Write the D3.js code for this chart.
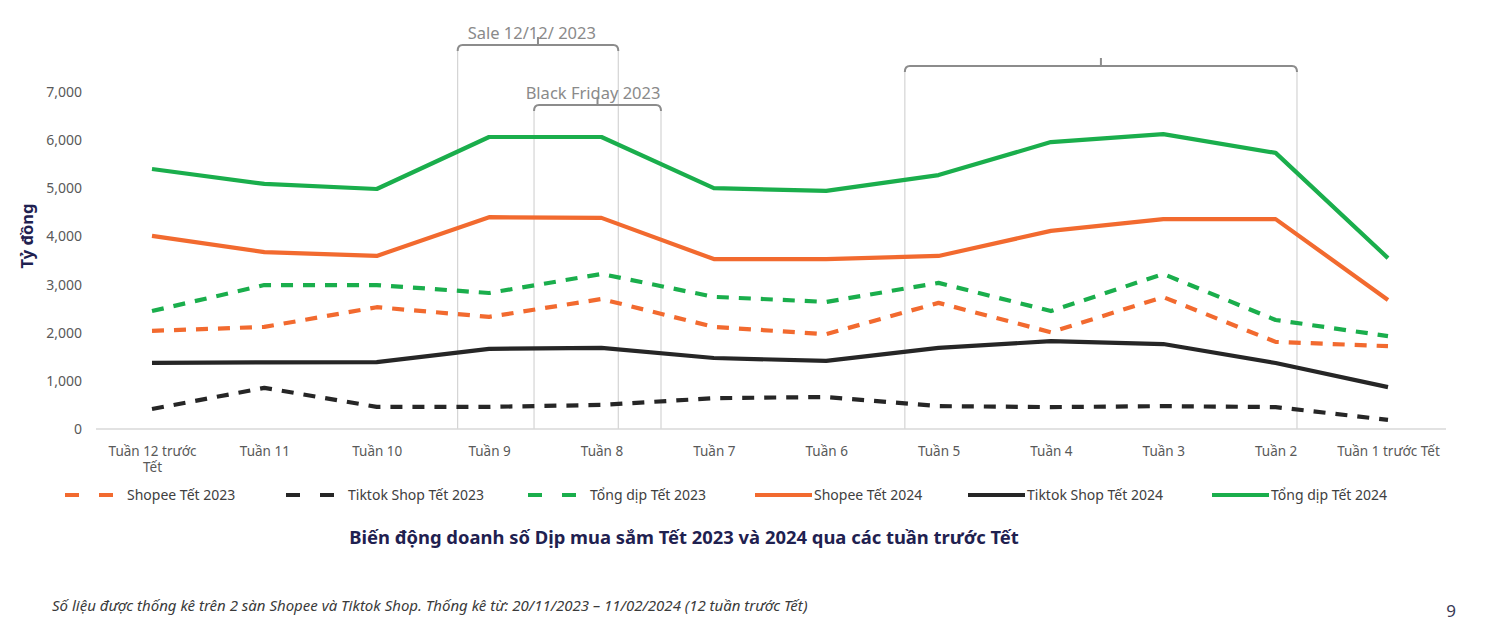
<!DOCTYPE html>
<html>
<head>
<meta charset="utf-8">
<script src="https://cdn.jsdelivr.net/npm/d3@7"></script>
<style>
  body { margin: 0; background: #fff; }
  svg { display: block; font-family: "Noto Sans", "Open Sans", sans-serif; }
</style>
</head>
<body>
<svg class="chart"></svg>
<script>
// DATA
var weeks = ["Tuần 12 trước Tết", "Tuần 11", "Tuần 10", "Tuần 9", "Tuần 8", "Tuần 7",
             "Tuần 6", "Tuần 5", "Tuần 4", "Tuần 3", "Tuần 2", "Tuần 1 trước Tết"];
var yTicks = [0, 1000, 2000, 3000, 4000, 5000, 6000, 7000];

var shopee2023 = [2040, 2120, 2530, 2330, 2700, 2120, 1970, 2620, 2010, 2740, 1810, 1720];
var tiktok2023 = [415, 855, 460, 460, 500, 640, 665, 475, 455, 475, 455, 190];
var tong2023   = [2450, 2990, 2990, 2825, 3220, 2745, 2640, 3035, 2450, 3220, 2265, 1930];
var shopee2024 = [4010, 3675, 3595, 4400, 4385, 3530, 3530, 3595, 4115, 4360, 4360, 2680];
var tiktok2024 = [1375, 1385, 1390, 1665, 1685, 1475, 1415, 1685, 1825, 1765, 1370, 870];
var tong2024   = [5400, 5090, 4985, 6065, 6065, 5005, 4945, 5275, 5960, 6125, 5735, 3550];

var seriesNames = ["Shopee Tết 2023", "Tiktok Shop Tết 2023", "Tổng dịp Tết 2023",
                   "Shopee Tết 2024", "Tiktok Shop Tết 2024", "Tổng dịp Tết 2024"];

var W = 1487, H = 628;
var orange = "#f26a2f", black = "#262626", green = "#1aae4c";

var series = [
  {name: seriesNames[0], values: shopee2023, color: orange, dash: "12,10"},
  {name: seriesNames[1], values: tiktok2023, color: black,  dash: "12,10"},
  {name: seriesNames[2], values: tong2023,   color: green,  dash: "12,10"},
  {name: seriesNames[3], values: shopee2024, color: orange, dash: null},
  {name: seriesNames[4], values: tiktok2024, color: black,  dash: null},
  {name: seriesNames[5], values: tong2024,   color: green,  dash: null}
];

var svg = d3.select(".chart").attr("width", W).attr("height", H);

// SCALES (index -> x so annotations can sit between weeks)
var x = d3.scaleLinear().domain([0, weeks.length - 1]).range([152, 1388]);
var y = d3.scaleLinear().domain([0, 7000]).range([429, 92]);

// ANNOTATION BRACKETS (drawn under the lines)
var brackets = [
  {from: 2.72, to: 4.15, top: 45, label: "Sale 12/12/ 2023", labelX: 3.38},
  {from: 3.40, to: 4.53, top: 105, label: "Black Friday 2023", labelX: 3.925},
  {from: 6.70, to: 10.19, top: 66, label: "", labelX: 8.45}
];

var ann = svg.append("g").attr("class", "annotations");
brackets.forEach(function(b) {
  ann.append("line")
    .attr("x1", x(b.from)).attr("x2", x(b.from))
    .attr("y1", b.top + 4).attr("y2", y(0))
    .attr("stroke", "#d4d4d4").attr("stroke-width", 1.2);
  ann.append("line")
    .attr("x1", x(b.to)).attr("x2", x(b.to))
    .attr("y1", b.top + 4).attr("y2", y(0))
    .attr("stroke", "#d4d4d4").attr("stroke-width", 1.2);
  var mid = (x(b.from) + x(b.to)) / 2;
  ann.append("path")
    .attr("d", "M" + x(b.from) + "," + (b.top + 6) + " Q" + x(b.from) + "," + b.top + " " + (x(b.from) + 5) + "," + b.top +
               " L" + (x(b.to) - 5) + "," + b.top + " Q" + x(b.to) + "," + b.top + " " + x(b.to) + "," + (b.top + 6) +
               " M" + mid + "," + b.top + " L" + mid + "," + (b.top - 8))
    .attr("fill", "none").attr("stroke", "#8c8c8c").attr("stroke-width", 2);
  if (b.label) {
    ann.append("text")
      .attr("x", x(b.labelX)).attr("y", b.top - 6)
      .attr("text-anchor", "middle")
      .attr("font-size", 16.5).attr("fill", "#8a8a8a")
      .text(b.label);
  }
});

// Y AXIS (labels only, no line)
var yAxis = svg.append("g")
  .attr("transform", "translate(82,0)")
  .call(d3.axisLeft(y).tickValues(yTicks).tickSize(0).tickPadding(0).tickFormat(d3.format(",")));
yAxis.select(".domain").remove();
yAxis.selectAll("text").attr("font-size", 14).attr("fill", "#595959")
  .attr("font-family", "Noto Sans, sans-serif");

svg.append("text")
  .attr("transform", "translate(33,236) rotate(-90)")
  .attr("text-anchor", "middle")
  .attr("font-size", 16.5).attr("font-weight", "bold").attr("fill", "#1f2150")
  .text("Tỷ đồng");

// X AXIS
var xAxis = svg.append("g")
  .attr("transform", "translate(0," + y(0) + ")")
  .call(d3.axisBottom(x).tickValues(d3.range(weeks.length)).tickSize(0).tickPadding(17)
        .tickFormat(function(i) { return weeks[i]; }));
xAxis.select(".domain").remove();
xAxis.append("line")
  .attr("x1", 96).attr("x2", 1446)
  .attr("stroke", "#d9d9d9").attr("stroke-width", 1.5);
xAxis.selectAll("text")
  .attr("font-size", 13.5).attr("fill", "#595959")
  .attr("font-family", "Noto Sans, sans-serif")
  .each(function(d, i) {
    if (i === 0) {
      var t = d3.select(this).text("");
      t.append("tspan").attr("x", 0).attr("dy", "0.71em").text("Tuần 12 trước");
      t.append("tspan").attr("x", 0).attr("dy", "1.25em").text("Tết");
    }
  });

// LINES
var line = d3.line()
  .x(function(d, i) { return x(i); })
  .y(function(d) { return y(d); });

svg.append("g").attr("class", "lines").selectAll("path")
  .data(series)
  .enter().append("path")
    .attr("d", function(d) { return line(d.values); })
    .attr("fill", "none")
    .attr("stroke", function(d) { return d.color; })
    .attr("stroke-width", 4.2)
    .attr("stroke-linejoin", "round")
    .attr("stroke-dasharray", function(d) { return d.dash; });

// LEGEND
var legendX = [65, 286, 528, 755, 968, 1212];
var legend = svg.append("g").attr("class", "legend").attr("transform", "translate(0,495)");
var items = legend.selectAll("g").data(series).enter().append("g")
  .attr("transform", function(d, i) { return "translate(" + legendX[i] + ",0)"; });
items.append("line")
  .attr("x1", 0).attr("x2", function(d) { return d.dash ? 48 : 57; })
  .attr("stroke", function(d) { return d.color; })
  .attr("stroke-width", 4)
  .attr("stroke-dasharray", function(d) { return d.dash ? "14,20" : null; });
items.append("text")
  .attr("x", function(d) { return d.dash ? 62 : 59; })
  .attr("dy", "0.35em")
  .attr("font-size", 14).attr("fill", "#404040")
  .text(function(d) { return d.name; });

// TITLE + FOOTNOTE
svg.append("text")
  .attr("x", 684).attr("y", 544)
  .attr("text-anchor", "middle")
  .attr("font-size", 18.4).attr("font-weight", "bold").attr("fill", "#1f2150")
  .text("Biến động doanh số Dịp mua sắm Tết 2023 và 2024 qua các tuần trước Tết");

svg.append("text")
  .attr("x", 52).attr("y", 611)
  .attr("font-size", 15).attr("font-style", "italic").attr("fill", "#3a3a3a")
  .text("Số liệu được thống kê trên 2 sàn Shopee và Tiktok Shop. Thống kê từ: 20/11/2023 – 11/02/2024 (12 tuần trước Tết)");

svg.append("text")
  .attr("x", 1451).attr("y", 617)
  .attr("text-anchor", "middle")
  .attr("font-size", 17).attr("fill", "#3a3a55")
  .text("9");
</script>
</body>
</html>
